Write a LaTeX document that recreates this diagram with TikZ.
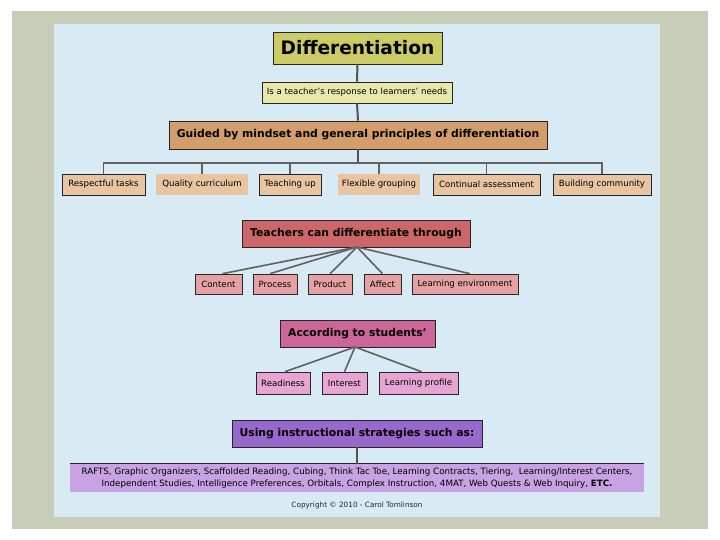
\documentclass[tikz,border=0pt]{standalone}
\usepackage{fontspec}
\setmainfont{DejaVu Sans}
\definecolor{cFrame}{RGB}{200,205,185}
\definecolor{cBg}{RGB}{216,234,244}
\definecolor{cDif}{RGB}{204,204,102}
\definecolor{cResp}{RGB}{232,232,170}
\definecolor{cGuid}{RGB}{212,158,108}
\definecolor{cRowA}{RGB}{232,196,160}
\definecolor{cTea}{RGB}{204,102,104}
\definecolor{cRowB}{RGB}{230,162,162}
\definecolor{cAcc}{RGB}{204,102,152}
\definecolor{cRowC}{RGB}{230,165,212}
\definecolor{cUse}{RGB}{152,104,204}
\definecolor{cStrip}{RGB}{200,162,226}
\begin{document}
\begin{tikzpicture}[x=1pt,y=-1pt,
  box/.style={draw=black!85, line width=0.6pt, inner sep=0pt, align=center, text=black},
  title/.style={box, font=\bfseries\fontsize{10.8}{12}\selectfont, minimum height=27pt},
  small/.style={box, font=\fontsize{8.6}{10}\selectfont, minimum height=21pt},
  conn/.style={draw=black!68, line width=2pt},
  thin/.style={draw=black!62, line width=1.6pt}]
\useasboundingbox (0,0) rectangle (720,540);
\fill[white] (0,0) rectangle (720,540);
\fill[cFrame] (12,11) rectangle (708,529);
\fill[cBg] (54,24) rectangle (660,517);

\node[box, fill=cDif, minimum width=169pt, minimum height=32pt, font=\bfseries\fontsize{18.6}{20}\selectfont] (dif) at (357.5,48) {Differentiation};
\node[small, fill=cResp, minimum width=190pt] (resp) at (357,92.5) {Is a teacher's response to learners' needs};
\node[title, fill=cGuid, minimum width=378pt, minimum height=28pt] (guid) at (358,135) {Guided by mindset and general principles of differentiation};

\node[small, fill=cRowA, minimum width=83pt] (r1) at (103.5,184.5) {Respectful tasks};
\node[small, fill=cRowA, minimum width=92pt, draw=none] (r2) at (202,184.5) {Quality curriculum};
\node[small, fill=cRowA, minimum width=62pt] (r3) at (290,184.5) {Teaching up};
\node[small, fill=cRowA, minimum width=82pt, draw=none] (r4) at (379,184.5) {Flexible grouping};
\node[small, fill=cRowA, minimum width=107pt] (r5) at (486.5,184.5) {Continual assessment};
\node[small, fill=cRowA, minimum width=98pt] (r6) at (602,184.5) {Building community};

\node[title, fill=cTea, minimum width=228pt] (tea) at (356,233.5) {Teachers can differentiate through};
\node[small, fill=cRowB, minimum width=47pt, minimum height=20pt] (c1) at (218.5,284) {Content};
\node[small, fill=cRowB, minimum width=44pt, minimum height=20pt] (c2) at (275,284) {Process};
\node[small, fill=cRowB, minimum width=44pt, minimum height=20pt] (c3) at (330,284) {Product};
\node[small, fill=cRowB, minimum width=37pt, minimum height=20pt] (c4) at (382.5,284) {Affect};
\node[small, fill=cRowB, minimum width=106pt, minimum height=20pt] (c5) at (465,284) {Learning environment};

\node[title, fill=cAcc, minimum width=155pt] (acc) at (357.5,333.5) {According to students'};
\node[small, fill=cRowC, minimum width=54pt, minimum height=22pt] (s1) at (283,383) {Readiness};
\node[small, fill=cRowC, minimum width=45pt, minimum height=22pt] (s2) at (344.5,383) {Interest};
\node[small, fill=cRowC, minimum width=79pt, minimum height=22pt] (s3) at (418.5,383) {Learning profile};

\node[title, fill=cUse, minimum width=250pt] (use) at (357,433.5) {Using instructional strategies such as:};
\node[box, draw=none, fill=cStrip, minimum width=574pt, minimum height=28pt, font=\fontsize{8.7}{12}\selectfont] (strip) at (357,478) {RAFTS, Graphic Organizers, Scaffolded Reading, Cubing, Think Tac Toe, Learning Contracts, Tiering,~ Learning/Interest Centers,\\Independent Studies, Intelligence Preferences, Orbitals, Complex Instruction, 4MAT, Web Quests \& Web Inquiry, \textbf{ETC.}};
\draw[black!85, line width=0.8pt] (strip.north west) -- (strip.north east);
\node[font=\fontsize{7.3}{8}\selectfont, text=black!85] (copy) at (357,505.5) {Copyright © 2010 - Carol Tomlinson};

% connectors
\coordinate (bus) at (0,163);
\draw[conn] (dif.south) -- (resp.north);
\draw[conn] (resp.south) -- (guid.north);
\draw[conn] (guid.south) -- (guid.south |- bus);
\draw[thin] (r1.north) -- (r1.north |- bus) -- (r6.north |- bus) -- (r6.north);
\foreach \r in {r2,r3,r4,r5} \draw[thin] (\r.north |- bus) -- (\r.north);
\coordinate (tb) at (357,247);
\foreach \c/\dx in {c1/4,c2/-5,c3/0,c4/0,c5/5} \draw[thin] (tb) -- ([xshift=\dx pt]\c.north);
\coordinate (ab) at (355,347);
\foreach \s/\dx in {s1/2,s2/0,s3/3} \draw[thin] (ab) -- ([xshift=\dx pt]\s.north);
\draw[conn] (use.south) -- (strip.north);
\end{tikzpicture}
\end{document}
